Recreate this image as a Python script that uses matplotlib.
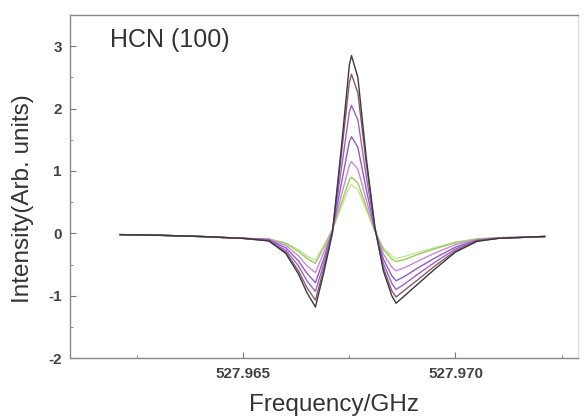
import matplotlib
matplotlib.use("Agg")
import matplotlib.pyplot as plt
from matplotlib.ticker import MultipleLocator, FormatStrFormatter

plt.rcParams["font.family"] = ["Liberation Sans", "DejaVu Sans"]

freq = [527.9621, 527.9630, 527.9640, 527.9650, 527.9656, 527.9660, 527.9663,
        527.9665, 527.9667, 527.9669, 527.9671, 527.9673, 527.9675, 527.96755,
        527.9677, 527.9679, 527.9681, 527.9683, 527.9685, 527.9686, 527.9688,
        527.9691, 527.9695, 527.9700, 527.9705, 527.9710, 527.9721]

int_a = [-0.02, -0.03, -0.05, -0.08, -0.12, -0.32, -0.65, -0.95, -1.18, -0.62, 0.00, 1.30, 2.70, 2.85,
         2.50, 1.20, 0.10, -0.60, -1.00, -1.12, -1.00, -0.82, -0.58, -0.30, -0.13, -0.08, -0.05]
int_b = [-0.02, -0.03, -0.05, -0.08, -0.12, -0.30, -0.60, -0.87, -1.07, -0.56, 0.02, 1.20, 2.42, 2.55,
         2.25, 1.10, 0.10, -0.55, -0.92, -1.02, -0.91, -0.75, -0.53, -0.28, -0.12, -0.08, -0.05]
int_c = [-0.02, -0.03, -0.05, -0.08, -0.11, -0.27, -0.52, -0.76, -0.93, -0.48, 0.03, 0.98, 1.95, 2.05,
         1.82, 0.90, 0.08, -0.48, -0.80, -0.90, -0.81, -0.66, -0.47, -0.25, -0.12, -0.08, -0.05]
int_d = [-0.02, -0.03, -0.05, -0.08, -0.10, -0.23, -0.44, -0.64, -0.79, -0.40, 0.04, 0.76, 1.47, 1.55,
         1.38, 0.70, 0.06, -0.41, -0.68, -0.76, -0.69, -0.56, -0.40, -0.22, -0.11, -0.08, -0.05]
int_e = [-0.02, -0.03, -0.05, -0.08, -0.09, -0.19, -0.36, -0.52, -0.63, -0.30, 0.05, 0.58, 1.09, 1.15,
         1.03, 0.53, 0.05, -0.33, -0.54, -0.60, -0.55, -0.45, -0.32, -0.18, -0.10, -0.07, -0.05]
int_f = [-0.02, -0.03, -0.05, -0.08, -0.09, -0.16, -0.29, -0.40, -0.48, -0.22, 0.06, 0.46, 0.86, 0.90,
         0.81, 0.42, 0.04, -0.26, -0.41, -0.45, -0.42, -0.34, -0.25, -0.15, -0.09, -0.07, -0.05]
int_g = [-0.02, -0.03, -0.05, -0.08, -0.09, -0.15, -0.26, -0.36, -0.43, -0.19, 0.06, 0.40, 0.74, 0.78,
         0.70, 0.37, 0.04, -0.23, -0.36, -0.40, -0.37, -0.31, -0.23, -0.14, -0.09, -0.07, -0.05]

series = [int_g, int_f, int_e, int_d, int_c, int_b, int_a]
colors = ["#c4e39a", "#9ccc5a", "#c98ad6", "#8e5cc8", "#a060c8", "#8a5a6a", "#3a3a3a"]

fig = plt.figure(figsize=(5.84, 4.16), dpi=100)
ax = fig.add_axes([0.12, 0.139, 0.87, 0.825])

for ys, c in zip(series, colors):
    ax.plot(freq, ys, color=c, lw=1.0)

ax.set_xlim(527.96092, 527.97289)
ax.set_ylim(-2, 3.5)
ax.xaxis.set_major_locator(MultipleLocator(0.005))
ax.xaxis.set_minor_locator(MultipleLocator(0.0025))
ax.yaxis.set_major_locator(MultipleLocator(1))
ax.yaxis.set_minor_locator(MultipleLocator(0.5))
ax.xaxis.set_major_formatter(FormatStrFormatter("%.3f"))
ax.yaxis.set_major_formatter(FormatStrFormatter("%d"))
ax.tick_params(which="both", direction="in", color="#777777", labelcolor="#444444",
               labelsize=11, pad=6)
ax.tick_params(which="major", length=4)
ax.tick_params(which="minor", length=2)
for lbl in ax.get_xticklabels() + ax.get_yticklabels():
    lbl.set_fontweight("bold")
for s in ax.spines.values():
    s.set_color("#888888")
    s.set_linewidth(1.0)
ax.spines["right"].set_color("#dddddd")

ax.text(0.079, 0.927, "HCN (100)", transform=ax.transAxes, fontsize=18,
        color="#333333", va="center")
ax.set_xlabel("Frequency/GHz", fontsize=17.5, color="#333333")
ax.set_ylabel("Intensity(Arb. units)", fontsize=17.5, color="#333333")
ax.xaxis.set_label_coords(0.52, -0.137)
ax.yaxis.set_label_coords(-0.0925, 0.464)
ax.xaxis.label.set_va("center")
ax.yaxis.label.set_va("center")

fig.savefig("out.png", dpi=100)
